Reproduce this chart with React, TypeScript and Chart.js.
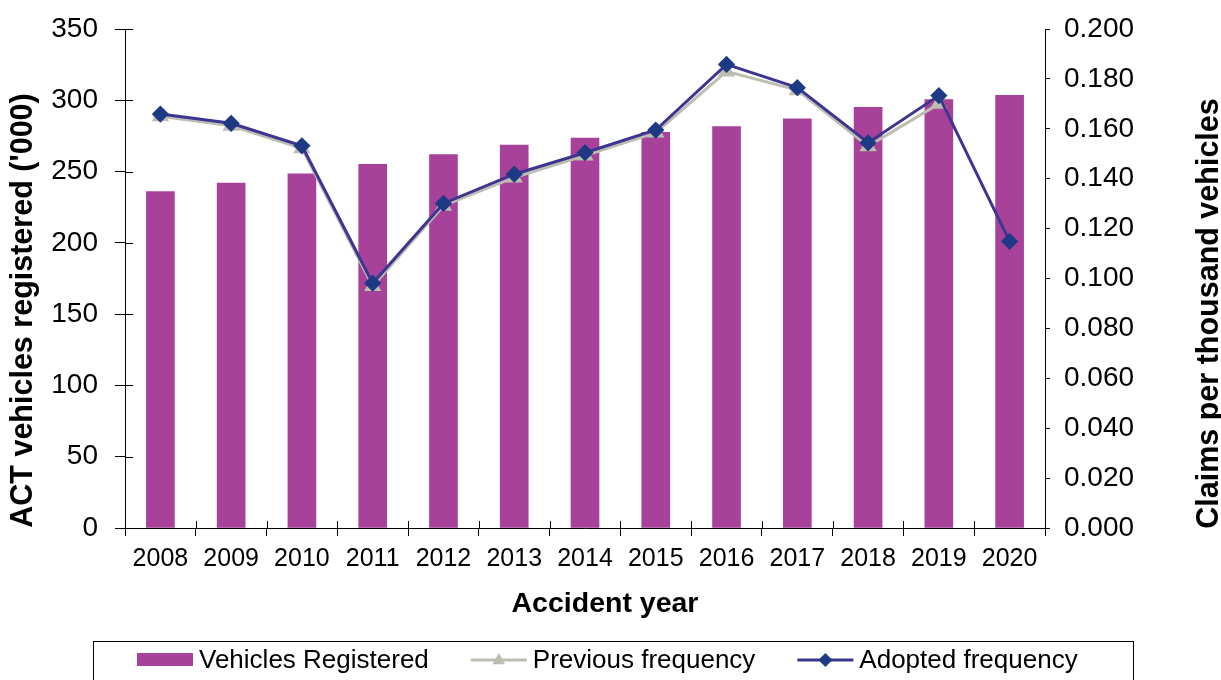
import React, { useEffect, useRef } from 'react';
import { Chart, registerables } from 'chart.js';

Chart.register(...registerables);

const years = ['2008', '2009', '2010', '2011', '2012', '2013', '2014', '2015', '2016', '2017', '2018', '2019', '2020'];
const vehiclesRegistered = [236, 242, 248.5, 255, 262, 268.5, 273.5, 277.5, 281.5, 287, 295, 300.5, 303.5];
const previousFrequency = [0.165, 0.1612, 0.1522, 0.097, 0.1292, 0.1405, 0.1493, 0.1585, 0.183, 0.1755, 0.153, 0.170, null];
const adoptedFrequency = [0.1659, 0.1622, 0.1532, 0.0981, 0.1301, 0.1418, 0.1504, 0.1595, 0.1858, 0.1765, 0.1544, 0.1733, 0.1149];

const leftTicks = { min: 0, max: 350, step: 50 };
const rightTicks = { min: 0, max: 0.2, step: 0.02 };

const labels = {
  vehicles: 'Vehicles Registered',
  previous: 'Previous frequency',
  adopted: 'Adopted frequency',
  leftTitle: "ACT vehicles registered ('000)",
  rightTitle: 'Claims per thousand vehicles',
  xTitle: 'Accident year',
};

const FONT = '"Liberation Sans", Arial, sans-serif';
const BAR_COLOR = '#A8419A';
const PREV_COLOR = '#BDBDB2';
const ADOPT_LINE = '#3D3592';
const ADOPT_POINT = '#1F3A84';

function drawTriangle(ctx: CanvasRenderingContext2D, x: number, y: number, r: number, color: string) {
  ctx.beginPath();
  ctx.moveTo(x, y - r);
  ctx.lineTo(x + r * 0.9, y + r * 0.6);
  ctx.lineTo(x - r * 0.9, y + r * 0.6);
  ctx.closePath();
  ctx.fillStyle = color;
  ctx.fill();
}

function drawDiamond(ctx: CanvasRenderingContext2D, x: number, y: number, r: number, color: string) {
  ctx.beginPath();
  ctx.moveTo(x, y - r);
  ctx.lineTo(x + r, y);
  ctx.lineTo(x, y + r);
  ctx.lineTo(x - r, y);
  ctx.closePath();
  ctx.fillStyle = color;
  ctx.fill();
}

const decorPlugin = {
  id: 'decor',
  afterDraw(chart: any) {
    const { ctx, chartArea } = chart;
    const yL = chart.scales.y;
    const xS = chart.scales.x;
    ctx.save();
    // inner tick marks
    ctx.strokeStyle = '#000';
    ctx.lineWidth = 1;
    ctx.beginPath();
    for (let v = leftTicks.min; v <= leftTicks.max; v += leftTicks.step) {
      const py = Math.round(yL.getPixelForValue(v)) + 0.5;
      ctx.moveTo(chartArea.left, py);
      ctx.lineTo(chartArea.left + 8, py);
    }
    for (let i = 0; i <= years.length; i++) {
      const px = Math.round(xS.getPixelForValue(i - 0.5)) + 0.5;
      ctx.moveTo(px, chartArea.bottom);
      ctx.lineTo(px, chartArea.bottom - 7);
    }
    ctx.stroke();

    // axis titles
    ctx.fillStyle = '#000';
    ctx.textAlign = 'center';
    ctx.textBaseline = 'middle';
    ctx.font = `bold 30.5px ${FONT}`;
    const midY = (chartArea.top + chartArea.bottom) / 2 + 32;
    ctx.save();
    ctx.translate(24, midY);
    ctx.rotate(-Math.PI / 2);
    ctx.fillText(labels.leftTitle, 0, 0);
    ctx.restore();
    ctx.save();
    ctx.translate(chart.width - 11, midY + 3);
    ctx.rotate(-Math.PI / 2);
    ctx.fillText(labels.rightTitle, 0, 0);
    ctx.restore();
    ctx.font = `bold 28.5px ${FONT}`;
    ctx.fillText(labels.xTitle, (chartArea.left + chartArea.right) / 2 + 20, chartArea.bottom + 76);

    // legend box
    const boxLeft = chartArea.left - 32;
    const boxRight = chartArea.right + 88;
    const boxTop = chartArea.bottom + 113;
    ctx.strokeRect(boxLeft + 0.5, boxTop + 0.5, boxRight - boxLeft, 80);
    const cy = boxTop + 19;
    ctx.font = `26px ${FONT}`;
    ctx.textAlign = 'left';
    ctx.textBaseline = 'middle';
    let x = boxLeft + 44;
    const ds = chart.data.datasets;
    ds.forEach((d: any, i: number) => {
      if (i === 0) {
        ctx.fillStyle = d.backgroundColor;
        ctx.fillRect(x, cy - 7, 56, 13);
      } else {
        ctx.strokeStyle = d.borderColor;
        ctx.lineWidth = 3;
        ctx.beginPath();
        ctx.moveTo(x, cy);
        ctx.lineTo(x + 56, cy);
        ctx.stroke();
        if (d.pointStyle === 'triangle') drawTriangle(ctx, x + 28, cy, 7, d.pointBackgroundColor);
        else drawDiamond(ctx, x + 28, cy, 7, d.pointBackgroundColor);
      }
      x += 56 + 6;
      ctx.fillStyle = '#000';
      ctx.fillText(d.label, x, cy + 1);
      x += ctx.measureText(d.label).width + 42;
    });
    ctx.restore();
  },
};

export default function App() {
  const ref = useRef<HTMLCanvasElement | null>(null);
  useEffect(() => {
    if (!ref.current) return;
    Chart.defaults.font.family = FONT;
    Chart.defaults.color = '#000';
    const chart = new Chart(ref.current, {
      type: 'bar',
      data: {
        labels: years,
        datasets: [
          {
            type: 'bar',
            label: labels.vehicles,
            data: vehiclesRegistered,
            backgroundColor: BAR_COLOR,
            barThickness: 28,
            yAxisID: 'y',
            order: 3,
          },
          {
            type: 'line',
            label: labels.previous,
            data: previousFrequency,
            borderColor: PREV_COLOR,
            backgroundColor: PREV_COLOR,
            pointBackgroundColor: PREV_COLOR,
            pointBorderColor: PREV_COLOR,
            pointStyle: 'triangle',
            pointRadius: 7,
            borderWidth: 3,
            tension: 0,
            yAxisID: 'y1',
            order: 2,
          },
          {
            type: 'line',
            label: labels.adopted,
            data: adoptedFrequency,
            borderColor: ADOPT_LINE,
            backgroundColor: ADOPT_POINT,
            pointBackgroundColor: ADOPT_POINT,
            pointBorderColor: ADOPT_POINT,
            pointStyle: 'rectRot',
            pointRadius: 6.5,
            borderWidth: 3,
            tension: 0,
            yAxisID: 'y1',
            order: 1,
          },
        ] as any,
      },
      options: {
        animation: false,
        responsive: true,
        maintainAspectRatio: false,
        layout: { padding: { top: 29, left: 0, right: 0, bottom: 0 } },
        plugins: {
          legend: { display: false },
          tooltip: { enabled: false },
          title: { display: false },
        },
        scales: {
          x: {
            offset: true,
            grid: { offset: true, drawOnChartArea: false, tickLength: 8, color: '#000' },
            border: { color: '#000', width: 1 },
            ticks: { font: { size: 25 }, color: '#000', padding: 8, maxRotation: 0 },
            afterFit: (s: any) => { s.height = 152; },
          },
          y: {
            position: 'left',
            min: leftTicks.min,
            max: leftTicks.max,
            grid: { drawOnChartArea: false, tickLength: 10, color: '#000' },
            border: { color: '#000', width: 1 },
            ticks: { stepSize: leftTicks.step, font: { size: 28, lineHeight: 0.8 }, color: '#000', padding: 17 },
            afterFit: (s: any) => { s.width = 125; },
          },
          y1: {
            position: 'right',
            min: rightTicks.min,
            max: rightTicks.max,
            grid: { drawOnChartArea: false, tickLength: 5, color: '#000' },
            border: { color: '#000', width: 1 },
            ticks: {
              stepSize: rightTicks.step,
              font: { size: 28, lineHeight: 0.8 },
              color: '#000',
              padding: 14,
              callback: (v: any) => Number(v).toFixed(3),
            },
            afterFit: (s: any) => { s.width = 176; },
          },
        },
      } as any,
      plugins: [decorPlugin],
    });
    return () => chart.destroy();
  }, []);
  return (
    <div style={{ position: 'fixed', left: 0, top: 0, width: 1221, height: 680, background: '#fff' }}>
      <canvas ref={ref} />
    </div>
  );
}
